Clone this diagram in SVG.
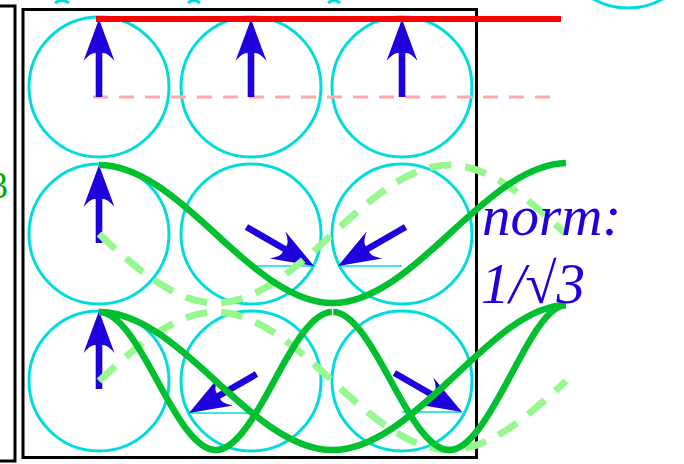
<svg xmlns="http://www.w3.org/2000/svg" width="684" height="464" viewBox="0 0 684 464">
<style>
.cell{fill:none;stroke:#00dcdc;stroke-width:3}
.tick{fill:none;stroke:#00dcdc;stroke-width:1.6}
.arr{fill:#1e00dc;stroke:none}
.box{fill:none;stroke:#000;stroke-width:3}
.g1{fill:none;stroke:#00c030;stroke-width:6.5}
.g2{fill:none;stroke:#98f890;stroke-width:7;stroke-dasharray:22 14}
.txt{font-family:'Liberation Serif','DejaVu Serif',serif;font-style:italic;fill:#1e00dc;font-size:57px}
</style>
<defs>
<path id="arrow" d="M0,0 L15.5,42 Q8,33 3.3,34 L3.3,78 L-3.3,78 L-3.3,34 Q-8,33 -15.5,42 Z"/>
</defs>
<rect width="684" height="464" fill="#fff"/>

<g id="frame">
<path class="box" d="M-5,6 H15 V461 H-5"/>
<rect class="box" x="23" y="9.5" width="453.5" height="448"/>
<circle class="cell" cx="628" cy="-62" r="70"/>
<path class="cell" d="M55,3 Q62,-2 69,3 M188,3 Q194,-2 200,3 M328,3 Q334,-2 340,3"/>
<text x="8" y="198" text-anchor="end" font-family="'Liberation Serif','DejaVu Serif',serif" font-size="37" fill="#00b000">3</text>
</g>

<g id="r1c1"><circle class="cell" cx="99" cy="87" r="70"/></g>
<g id="r1c2"><circle class="cell" cx="251" cy="87" r="70"/></g>
<g id="r1c3"><circle class="cell" cx="402" cy="87" r="70"/></g>
<g id="r2c1"><circle class="cell" cx="99" cy="234" r="70"/></g>
<g id="r2c2"><circle class="cell" cx="251" cy="234" r="70"/><line class="tick" x1="251" y1="266" x2="314" y2="266"/></g>
<g id="r2c3"><circle class="cell" cx="402" cy="234" r="70"/><line class="tick" x1="338" y1="266" x2="402" y2="266"/></g>
<g id="r3c1"><circle class="cell" cx="99" cy="381" r="70"/></g>
<g id="r3c2"><circle class="cell" cx="251" cy="381" r="70"/><line class="tick" x1="189" y1="413" x2="251" y2="413"/></g>
<g id="r3c3"><circle class="cell" cx="402" cy="381" r="70"/><line class="tick" x1="402" y1="412" x2="462" y2="412"/></g>

<g id="levels">
<line x1="93" y1="97" x2="552" y2="97" stroke="#ffaaaa" stroke-width="3" stroke-dasharray="15 11"/>
</g>

<g id="spins">
<use href="#arrow" class="arr" transform="translate(99,19)"/>
<use href="#arrow" class="arr" transform="translate(251,19)"/>
<use href="#arrow" class="arr" transform="translate(402,19)"/>
<use href="#arrow" class="arr" transform="translate(99,165)"/>
<use href="#arrow" class="arr" transform="translate(314,266) rotate(120)"/>
<use href="#arrow" class="arr" transform="translate(338,266) rotate(-120)"/>
<use href="#arrow" class="arr" transform="translate(99,311)"/>
<use href="#arrow" class="arr" transform="translate(189,413) rotate(-120)"/>
<use href="#arrow" class="arr" transform="translate(462,412) rotate(120)"/>
</g>

<g id="connectors">
<line x1="96" y1="19" x2="561" y2="19" stroke="#ff0000" stroke-width="6"/>
<path class="g2" d="M99,234 C137.06,269.33 175.53,303 215.75,303 C255.97,303 294.44,269.33 332.5,234 C370.56,198.67 409.03,165 449.25,165 C489.47,165 527.94,198.67 566,234"/>
<path class="g2" d="M99,381 C137.06,345.67 175.53,312 215.75,312 C255.97,312 294.44,345.67 332.5,381 C370.56,416.33 409.03,450 449.25,450 C489.47,450 527.94,416.33 566,381"/>
<path class="g1" d="M99,165 C139.22,165 177.69,198.67 215.75,234 C253.81,269.33 292.28,303 332.5,303 C372.72,303 411.19,269.33 449.25,234 C487.31,198.67 525.78,164 566,163"/>
<path class="g1" d="M99,312 C139.22,312 177.69,345.67 215.75,381 C253.81,416.33 292.28,450 332.5,450 C372.72,450 411.19,416.33 449.25,381 C487.31,345.67 525.78,306 566,305"/>
<path class="g1" d="M99,312 C119.11,312 138.35,345.67 157.375,381 C176.41,416.33 195.64,450 215.75,450 C235.86,450 255.1,416.33 274.125,381 C293.16,345.67 312.39,312 331.8,312"/>
<path class="g1" d="M333.2,312 C352.61,312 371.85,345.67 390.875,381 C409.91,416.33 429.14,450 449.25,450 C469.36,450 488.6,416.33 507.625,381 C526.66,345.67 545.89,306 566,305"/>
</g>

<g id="label">
<text class="txt" x="482" y="235">norm:</text>
<text class="txt" x="481" y="303">1/√3</text>
</g>
</svg>
